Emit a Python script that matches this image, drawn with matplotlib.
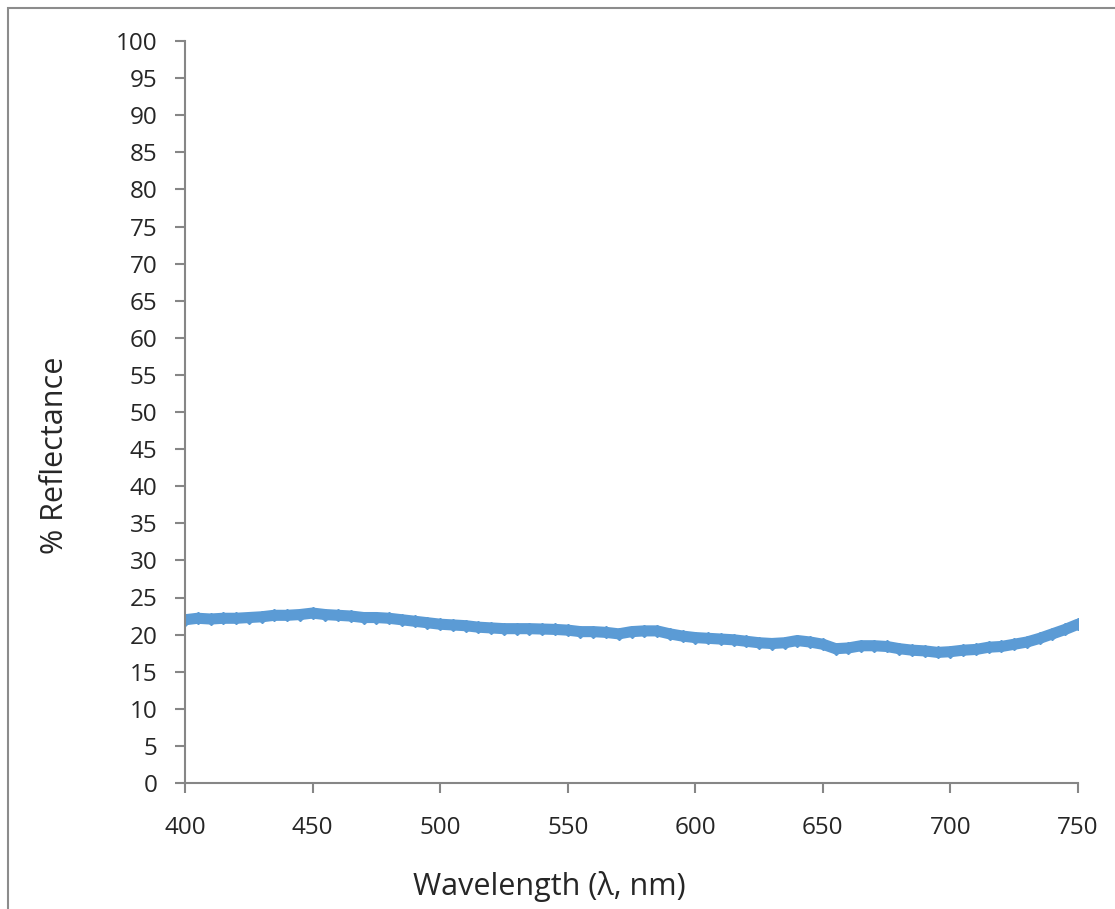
import numpy as np
import matplotlib
matplotlib.use('Agg')
import matplotlib.pyplot as plt
from matplotlib.patches import Rectangle

wavelength = [400, 405, 410, 415, 420, 425, 430, 435, 440, 445,
              450, 455, 460, 465, 470, 475, 480, 485, 490, 495,
              500, 505, 510, 515, 520, 525, 530, 535, 540, 545,
              550, 555, 560, 565, 570, 575, 580, 585, 590, 595,
              600, 605, 610, 615, 620, 625, 630, 635, 640, 645,
              650, 655, 660, 665, 670, 675, 680, 685, 690, 695,
              700, 705, 710, 715, 720, 725, 730, 735, 740, 745, 750]
reflectance = [22.0, 22.2, 22.1, 22.2, 22.2, 22.3, 22.4, 22.6, 22.6, 22.7,
               22.9, 22.7, 22.6, 22.5, 22.3, 22.3, 22.2, 22.0, 21.8, 21.6,
               21.4, 21.3, 21.2, 21.0, 20.9, 20.8, 20.8, 20.8, 20.75, 20.7,
               20.6, 20.4, 20.4, 20.3, 20.1, 20.4, 20.5, 20.5, 20.1, 19.8,
               19.6, 19.5, 19.4, 19.3, 19.1, 18.9, 18.8, 18.9, 19.2, 19.0,
               18.7, 18.1, 18.2, 18.5, 18.5, 18.4, 18.1, 17.9, 17.8, 17.6,
               17.7, 17.9, 18.0, 18.3, 18.4, 18.7, 19.0, 19.5, 20.1, 20.7, 21.4]
x_ticks = [400, 450, 500, 550, 600, 650, 700, 750]
y_ticks = list(range(0, 101, 5))

W, H = 1115, 909
plt.rcParams['font.family'] = ['Open Sans', 'DejaVu Sans']
fig = plt.figure(figsize=(W / 100, H / 100), dpi=100)
fig.patch.set_facecolor('white')

# outer chart frame
fig.patches.append(Rectangle((8 / W, -0.05), 1.2, 1 - 8 / H + 0.05,
                             transform=fig.transFigure, fill=False,
                             edgecolor='#8c8c8c', linewidth=1.5))

ax = fig.add_axes([185 / W, 1 - 783 / H, (1078 - 185) / W, (783 - 41) / H])
ax.plot(wavelength, reflectance, color='#5b9bd5', linewidth=8,
        marker='D', markersize=6, solid_capstyle='round')

ax.set_xlim(400, 750)
ax.set_ylim(0, 100)
ax.set_xticks(x_ticks)
ax.set_yticks(y_ticks)
for s in ['top', 'right']:
    ax.spines[s].set_visible(False)
for s in ['left', 'bottom']:
    ax.spines[s].set_color('#868686')
    ax.spines[s].set_linewidth(1.5)
ax.tick_params(axis='both', direction='out', length=7, width=1.5,
               color='#868686', labelsize=17.5, labelcolor='#262626')
ax.tick_params(axis='x', pad=17)
ax.tick_params(axis='y', pad=13)

fig.text(549 / W, 1 - 887 / H, 'Wavelength (\u03bb, nm)', ha='center', va='center',
         fontsize=22, color='#262626')
fig.text(55 / W, 1 - 455 / H, '% Reflectance', ha='center', va='center',
         rotation=90, fontsize=22, color='#262626')

fig.savefig('out.png', dpi=100)
